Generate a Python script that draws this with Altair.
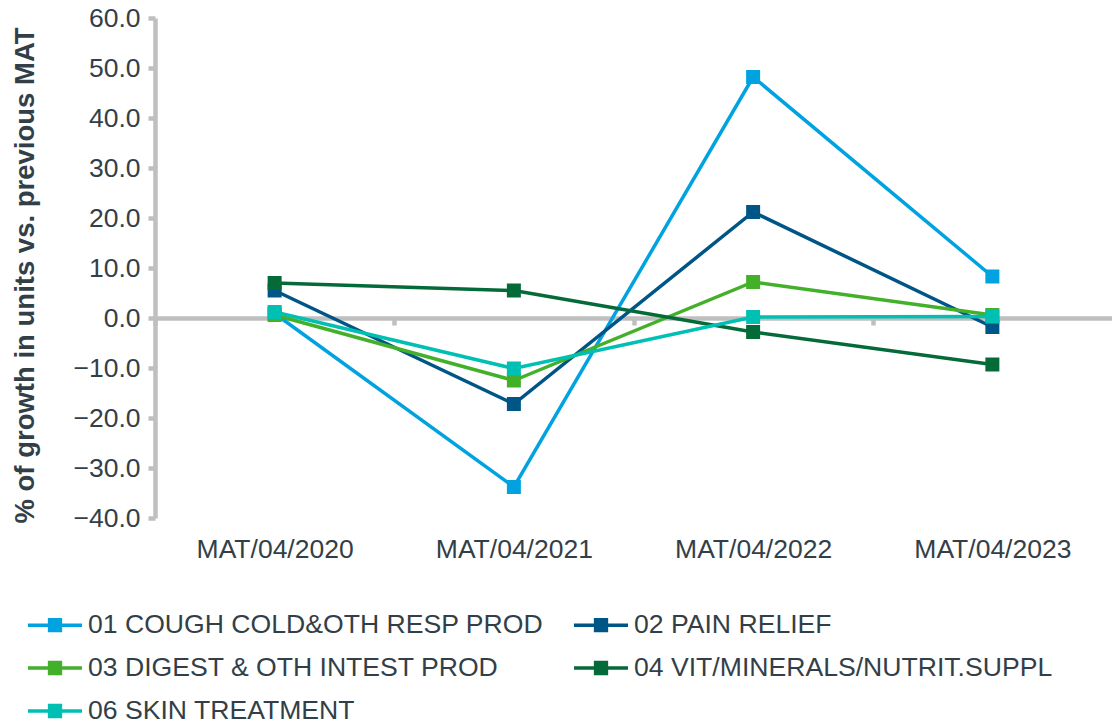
import altair as alt
import pandas as pd

# Periods (moving annual totals) on the x axis
periods = ["MAT/04/2020", "MAT/04/2021", "MAT/04/2022", "MAT/04/2023"]

# Product categories, in legend / drawing order
series = [
    "01 COUGH COLD&OTH RESP PROD",
    "02 PAIN RELIEF",
    "03 DIGEST & OTH INTEST PROD",
    "04 VIT/MINERALS/NUTRIT.SUPPL",
    "06 SKIN TREATMENT",
]

# % growth in units vs. previous MAT, one list per category
cough = [0.9, -33.8, 48.2, 8.3]
pain = [5.5, -17.2, 21.2, -1.8]
digest = [0.6, -12.5, 7.2, 0.6]
vitamins = [7.0, 5.5, -2.8, -9.3]
skin = [1.2, -10.1, 0.2, 0.3]

colors = ["#00A3E0", "#005587", "#43B02A", "#046A38", "#00BFB3"]

values = [cough, pain, digest, vitamins, skin]
rows = []
for name, vals in zip(series, values):
    for p, v in zip(periods, vals):
        rows.append({"period": p, "series": name, "growth": v})
df = pd.DataFrame(rows)

TEXT = "#333F48"
GRID = "#BFBFBF"
FONT = "Liberation Sans"
W, H = 957, 500
band = W / len(periods)

x_enc = alt.X(
    "period:N",
    sort=periods,
    scale=alt.Scale(type="point", padding=0.5),
    axis=alt.Axis(
        orient="bottom",
        offset=-200,
        title=None,
        labelAngle=0,
        domainColor=GRID,
        domainWidth=4.5,
        tickColor=GRID,
        tickWidth=4.5,
        tickSize=7,
        tickOffset=-band / 2,
        labelOffset=band / 2,
        labelPadding=211,
        labelFont=FONT,
        labelFontSize=26.5,
        labelColor=TEXT,
    ),
)

y_enc = alt.Y(
    "growth:Q",
    scale=alt.Scale(domain=[-40, 60], nice=False, zero=False),
    axis=alt.Axis(
        values=list(range(-40, 70, 10)),
        format=".1f",
        grid=False,
        domainColor=GRID,
        domainWidth=4.5,
        tickColor=GRID,
        tickWidth=4.5,
        tickSize=7,
        labelPadding=8,
        labelFont=FONT,
        labelFontSize=26.5,
        labelColor=TEXT,
        title="% of growth in units vs. previous MAT",
        titleFont=FONT,
        titleFontSize=27.5,
        titleFontWeight="bold",
        titleColor=TEXT,
        titleAngle=270,
        titleX=-130,
        titleY=257,
        titleAlign="center",
        titleBaseline="middle",
    ),
)

color_scale = alt.Scale(domain=series, range=colors)

# Legend entries laid out row by row, two per row
legend = alt.Legend(
    title=None,
    orient="none",
    legendX=-129,
    legendY=578,
    direction="horizontal",
    columns=2,
    columnPadding=23,
    rowPadding=-4.5,
    symbolType="M-1,0H1M-0.2,-0.2H0.2V0.2H-0.2Z",
    symbolSize=2916,
    symbolStrokeWidth=3.5,
    labelOffset=4,
    labelFont=FONT,
    labelFontSize=26.6,
    labelColor=TEXT,
    labelLimit=700,
)

color_enc = alt.Color("series:N", scale=color_scale, sort=series, legend=legend)

lines = alt.Chart(df).mark_line(strokeWidth=3.5).encode(
    x=x_enc,
    y=y_enc,
    color=color_enc,
)

points = alt.Chart(df).mark_square(size=196, filled=True, opacity=1).encode(
    x=x_enc,
    y=y_enc,
    color=color_enc,
)

chart = (
    alt.layer(lines, points)
    .properties(
        width=W,
        height=H,
        autosize=alt.AutoSizeParams(type="none"),
        padding={"left": 155, "top": 18, "right": 0, "bottom": 210},
        background="white",
    )
    .configure_view(stroke=None)
)

chart.save("out.html", embed_options={"renderer": "svg", "actions": False})
